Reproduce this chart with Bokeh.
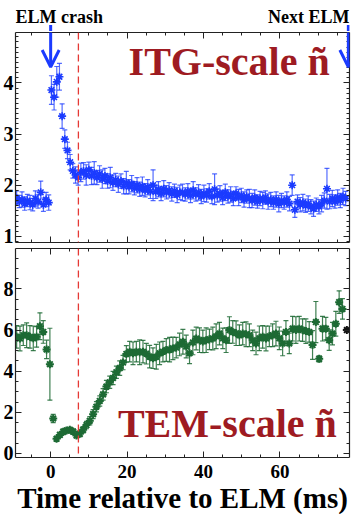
import numpy as np
from bokeh.plotting import figure
from bokeh.models import (ColumnDataSource, Whisker, TeeHead, Span, Label, Arrow, OpenHead,
                          LinearAxis, SingleIntervalTicker, Range1d)
from bokeh.layouts import column
from bokeh.embed import file_html
from bokeh.resources import INLINE

# ---------------- data ----------------
# ITG-scale fluctuation amplitude (top panel), sampled every 0.7 ms from -8.9 ms
itg_t0, itg_dt = -8.9, 0.7
itg_val = [
    1.75, 1.68, 1.72, 1.64, 1.70, 1.66, 1.62, 1.74, 1.68, 1.86,
    1.62, 1.72, 1.66, 3.86, 3.72, 4.02, 4.12, 3.35, 2.90, 2.68,
    2.45, 2.28, 2.20, 2.15, 2.25, 2.28, 2.20, 2.30, 2.18, 2.24,
    2.15, 2.22, 2.12, 2.18, 2.08, 2.15, 2.05, 2.10, 2.02, 2.08,
    1.98, 2.05, 1.97, 2.03, 1.94, 2.00, 1.92, 1.98, 1.90, 1.96,
    1.88, 2.00, 1.87, 1.92, 1.84, 1.93, 1.86, 1.90, 1.83, 1.89,
    1.81, 1.86, 1.86, 1.82, 1.88, 1.80, 1.90, 1.82, 1.86, 1.78,
    1.84, 1.80, 1.88, 1.78, 1.92, 1.80, 1.84, 1.76, 1.86, 1.78,
    1.82, 1.74, 1.84, 1.76, 1.80, 1.72, 1.78, 1.74, 1.70, 1.76,
    1.68, 1.74, 1.70, 1.76, 1.68, 1.72, 1.66, 1.72, 1.64, 1.70,
    1.66, 1.72, 1.64, 2.00, 1.52, 1.68, 1.62, 1.66, 1.60, 1.64,
    1.58, 1.54, 1.62, 1.58, 1.64, 1.70, 1.93, 1.68, 1.74, 1.68,
    1.76, 1.70, 1.78, 1.74,
]
itg_err = [
    0.14, 0.12, 0.15, 0.13, 0.12, 0.14, 0.12, 0.15, 0.13, 0.22,
    0.13, 0.14, 0.15, 0.28, 0.25, 0.30, 0.26, 0.24, 0.18, 0.16,
    0.15, 0.14, 0.16, 0.15, 0.18, 0.16, 0.20, 0.15, 0.17, 0.22,
    0.14, 0.16, 0.18, 0.15, 0.14, 0.20, 0.15, 0.13, 0.16, 0.14,
    0.15, 0.22, 0.14, 0.16, 0.13, 0.15, 0.14, 0.18, 0.13, 0.15,
    0.14, 0.30, 0.13, 0.15, 0.14, 0.16, 0.13, 0.15, 0.14, 0.13,
    0.15, 0.14, 0.16, 0.13, 0.15, 0.14, 0.17, 0.13, 0.15, 0.14,
    0.16, 0.13, 0.15, 0.14, 0.30, 0.13, 0.15, 0.14, 0.16, 0.13,
    0.15, 0.14, 0.13, 0.16, 0.14, 0.15, 0.13, 0.18, 0.14, 0.15,
    0.13, 0.14, 0.16, 0.13, 0.15, 0.14, 0.13, 0.15, 0.16, 0.14,
    0.13, 0.15, 0.14, 0.20, 0.15, 0.13, 0.14, 0.16, 0.13, 0.15,
    0.14, 0.15, 0.13, 0.14, 0.16, 0.15, 0.40, 0.14, 0.16, 0.13,
    0.15, 0.14, 0.16, 0.14,
]

# TEM-scale fluctuation amplitude (bottom panel), sampled every 0.87 ms from -8.9 ms
tem_t0, tem_dt = -8.9, 0.87
tem_val = [
    5.67, 5.59, 5.75, 5.75, 5.67, 5.60, 5.67, 6.19, 5.91, 5.06,
    4.34, 1.70, 0.71, 0.90, 1.05, 1.11, 1.15, 1.06, 0.87, 0.95,
    1.15, 1.38, 1.59, 1.91, 2.27, 2.55, 2.87, 3.25, 3.46, 3.67,
    3.95, 4.15, 4.42, 4.84, 4.95, 4.87, 4.95, 4.92, 4.95, 4.85,
    4.71, 4.63, 4.70, 4.87, 4.95, 5.03, 5.05, 5.11, 5.15, 5.30,
    5.43, 5.20, 4.87, 5.40, 5.59, 5.51, 5.45, 5.51, 5.55, 5.59,
    5.70, 5.83, 5.60, 5.51, 6.00, 5.91, 5.85, 5.75, 5.83, 5.80,
    5.75, 5.50, 5.35, 5.60, 5.67, 5.59, 5.70, 5.75, 5.83, 5.60,
    5.35, 5.91, 5.35, 6.07, 6.00, 6.07, 6.00, 5.95, 5.91, 5.27,
    6.39, 4.60, 6.07, 6.07, 5.51, 5.83, 6.31, 7.36, 7.03,
]
tem_err = [
    0.55, 0.60, 0.50, 0.60, 0.55, 0.60, 0.50, 0.65, 0.55, 0.45,
    1.75, 0.20, 0.12, 0.12, 0.14, 0.13, 0.12, 0.14, 0.12, 0.13,
    0.15, 0.18, 0.20, 0.22, 0.25, 0.25, 0.28, 0.30, 0.30, 0.32,
    0.30, 0.35, 0.35, 0.40, 0.50, 0.55, 0.50, 0.60, 0.55, 0.50,
    0.55, 0.50, 0.60, 0.55, 0.50, 0.55, 0.60, 0.55, 0.50, 0.55,
    0.60, 0.55, 0.50, 0.60, 0.55, 0.60, 0.55, 0.60, 0.50, 0.55,
    0.60, 0.55, 0.50, 0.60, 0.65, 0.55, 0.60, 0.50, 0.55, 0.60,
    0.55, 0.50, 0.55, 0.60, 0.55, 0.60, 0.50, 0.55, 0.60, 0.55,
    0.60, 0.55, 0.50, 0.60, 0.65, 0.60, 0.55, 0.60, 0.50, 0.70,
    1.00, 0.15, 0.60, 0.55, 0.50, 0.55, 0.60, 0.55, 0.50,
]
tem_last_t = [77.5]
tem_last_v = [6.0]

elm_crash_t = 0.0
next_elm_t = 77.9
dashed_t = 7.26
x_ticks_major = 20
# --------------------------------------

FONT = "Liberation Serif"
BLUE = "#1b3bff"
GREEN = "#1d6a34"
DARKRED = "#9e1b22"
AX = "#222222"

FW = 334            # frame width
ML, MR = 14, 13     # left / right borders

itg_t = itg_t0 + itg_dt * np.arange(len(itg_val))
tem_t = tem_t0 + tem_dt * np.arange(len(tem_val))
itg_v = np.array(itg_val); itg_e = np.array(itg_err)
tem_v = np.array(tem_val); tem_e = np.array(tem_err)

src_itg = ColumnDataSource(dict(t=itg_t, v=itg_v, lo=itg_v - itg_e, hi=itg_v + itg_e))
src_tem = ColumnDataSource(dict(t=tem_t, v=tem_v, lo=tem_v - tem_e, hi=tem_v + tem_e))

xr = Range1d(-9.2, 78.2)


def style_axis(ax, ticker, labels=True):
    ax.ticker = ticker
    ax.major_tick_in = 6
    ax.major_tick_out = 0
    ax.minor_tick_in = 3
    ax.minor_tick_out = 0
    ax.axis_line_color = AX
    ax.axis_line_width = 1.2
    ax.major_tick_line_color = AX
    ax.minor_tick_line_color = AX
    ax.major_label_text_font = FONT
    ax.major_label_text_font_style = "bold"
    ax.major_label_text_color = "black"
    if labels:
        ax.major_label_text_font_size = "20px"
        ax.major_label_standoff = 2
    else:
        ax.major_label_text_font_size = "0px"
        ax.major_label_standoff = 0


def make_fig(yr, top, bottom, yticker, fh):
    p = figure(frame_width=FW, frame_height=fh, x_range=xr, y_range=yr,
               output_backend="svg", toolbar_location=None,
               min_border_left=ML, min_border_right=MR,
               min_border_top=top, min_border_bottom=bottom)
    p.grid.visible = False
    p.outline_line_color = None
    p.background_fill_color = "white"
    xt = SingleIntervalTicker(interval=x_ticks_major, num_minor_ticks=4)
    for ax in p.xaxis:
        style_axis(ax, xt, labels=False)
    for ax in p.yaxis:
        style_axis(ax, yticker, labels=True)
    ra = LinearAxis()
    style_axis(ra, yticker, labels=False)
    p.add_layout(ra, "right")
    ta = LinearAxis()
    style_axis(ta, SingleIntervalTicker(interval=x_ticks_major, num_minor_ticks=4), labels=False)
    p.add_layout(ta, "above")
    p.add_layout(Span(location=dashed_t, dimension="height", line_color="#e53935",
                      line_dash="7 4", line_width=1.3))
    return p


# ---- header strip (annotations above the top frame) ----
hdr = figure(frame_width=FW, frame_height=31, x_range=xr, y_range=Range1d(31, 0),
             output_backend="svg", toolbar_location=None,
             min_border_left=ML, min_border_right=MR, min_border_top=0, min_border_bottom=0,
             x_axis_location=None, y_axis_location=None)
hdr.grid.visible = False
hdr.outline_line_color = None
hdr.add_layout(Label(x=-9.2, y=16.5, text="ELM crash", text_font=FONT, text_font_style="bold",
                     text_font_size="18px", text_color="black", text_baseline="middle"))
hdr.add_layout(Label(x=78.2, y=16.5, text="Next ELM", text_font=FONT, text_font_style="bold",
                     text_font_size="18px", text_color="black", text_baseline="middle",
                     text_align="right"))
for xa in (elm_crash_t, next_elm_t):
    hdr.add_layout(Arrow(x_start=xa, y_start=24.5, x_end=xa, y_end=31.5, end=None,
                         line_color=BLUE, line_width=3))

# ---- top panel ----
p1 = make_fig(Range1d(0.88, 4.985), 1, 3, SingleIntervalTicker(interval=1, num_minor_ticks=10), 210)
p1.add_layout(Whisker(source=src_itg, base="t", lower="lo", upper="hi",
                      line_color=BLUE, line_alpha=0.75, line_width=1.2,
                      upper_head=TeeHead(size=5, line_color=BLUE, line_alpha=0.75, line_width=1.2),
                      lower_head=TeeHead(size=5, line_color=BLUE, line_alpha=0.75, line_width=1.2)))
p1.scatter("t", "v", source=src_itg, marker="asterisk", size=8, line_color=BLUE, line_width=1.6)
p1.add_layout(Label(x=20.4, y=4.41, text="ITG-scale ñ", text_font=FONT, text_font_style="bold",
                    text_font_size="40px", text_color=DARKRED, text_baseline="middle"))
for xa in (elm_crash_t, next_elm_t):
    p1.add_layout(Arrow(x_start=xa, y_start=5.05, x_end=xa, y_end=4.31,
                        line_color=BLUE, line_width=3,
                        end=OpenHead(size=17, line_color=BLUE, line_width=3)))

# ---- bottom panel ----
p2 = make_fig(Range1d(-0.2, 9.97), 3, 4, SingleIntervalTicker(interval=2, num_minor_ticks=4), 209)
p2.add_layout(Whisker(source=src_tem, base="t", lower="lo", upper="hi",
                      line_color=GREEN, line_alpha=0.85, line_width=1.2,
                      upper_head=TeeHead(size=5, line_color=GREEN, line_alpha=0.85, line_width=1.2),
                      lower_head=TeeHead(size=5, line_color=GREEN, line_alpha=0.85, line_width=1.2)))
p2.scatter("t", "v", source=src_tem, marker="asterisk", size=8, line_color=GREEN, line_width=2)
p2.scatter(tem_last_t, tem_last_v, marker="asterisk", size=8, line_color="#111111", line_width=2)
p2.add_layout(Label(x=17.6, y=1.47, text="TEM-scale ñ", text_font=FONT, text_font_style="bold",
                    text_font_size="40px", text_color=DARKRED, text_baseline="middle"))

xb = p2.below[0]
xb.major_label_text_font_size = "19px"
xb.major_label_standoff = 7
xb.axis_label = "Time relative to ELM (ms)"
xb.axis_label_text_font = FONT
xb.axis_label_text_font_style = "bold"
xb.axis_label_text_font_size = "29px"
xb.axis_label_text_color = "black"
xb.axis_label_standoff = 1

layout = column(hdr, p1, p2, spacing=0)
open("out.html", "w").write(file_html(layout, INLINE))
